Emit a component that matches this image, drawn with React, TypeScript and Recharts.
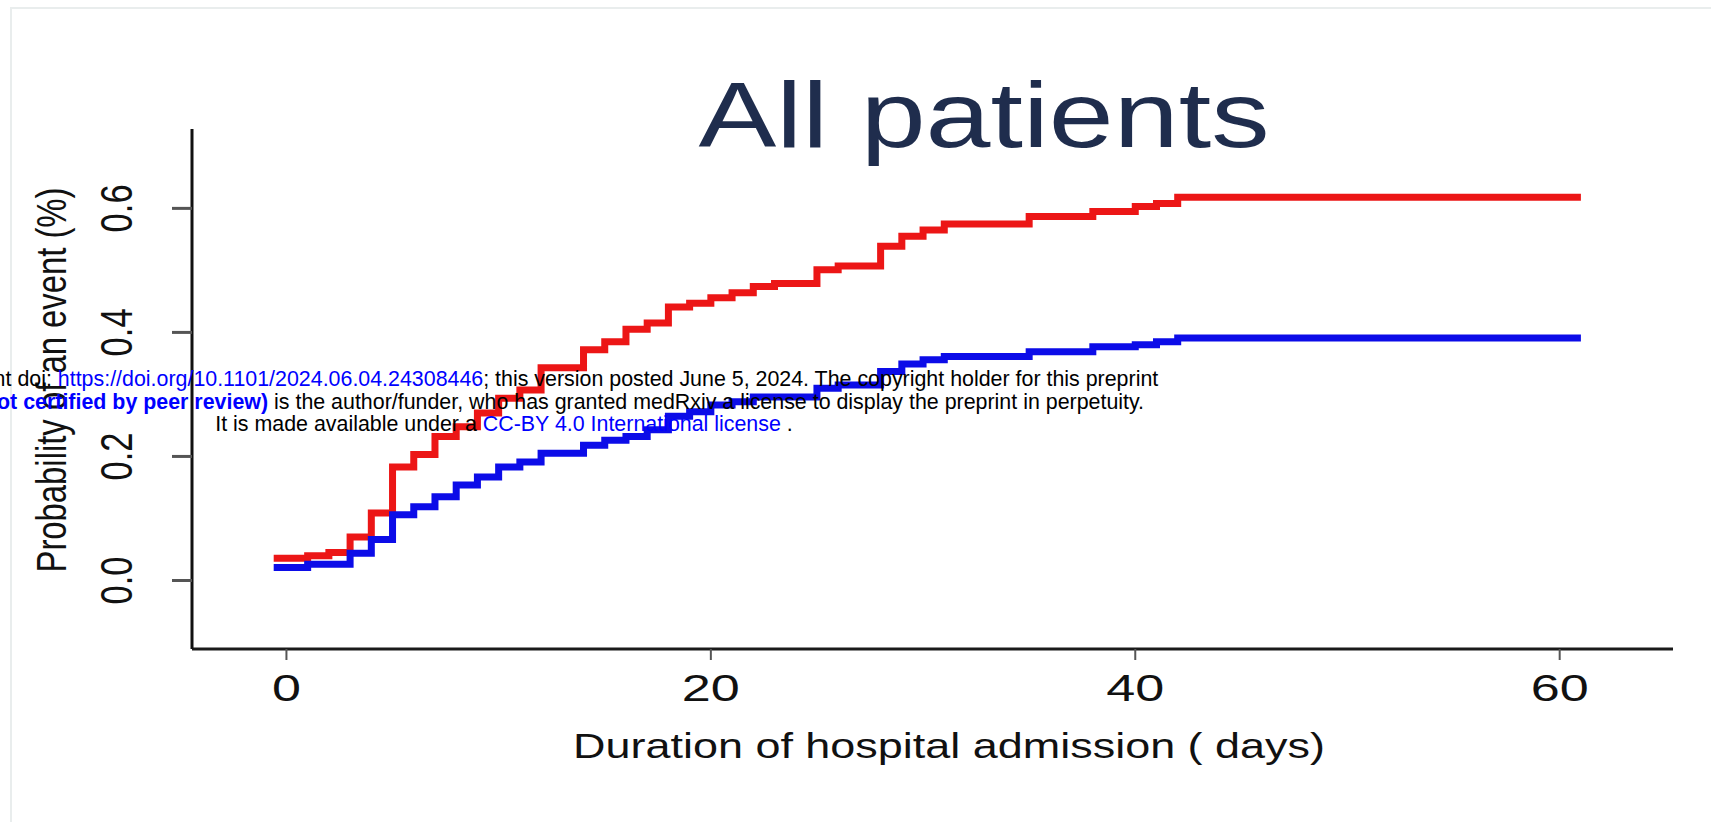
import React from "react";
import { LineChart, Line, XAxis, YAxis } from "recharts";

// days where at least one curve steps (the curves start just before day 0), plus the end of follow-up
const days = [
  -0.6, 1, 2, 3, 4, 5, 6, 7, 8, 9, 10, 11, 12, 13, 14, 15, 16, 17, 18, 19, 20,
  21, 22, 23, 24, 25, 26, 27, 28, 29, 30, 31, 35, 38, 40, 41, 42, 61,
];

const redRisk = [
  0.036, 0.04, 0.045, 0.07, 0.109, 0.183, 0.203, 0.232, 0.248, 0.27, 0.294,
  0.307, 0.343, 0.343, 0.372, 0.385, 0.405, 0.415, 0.441, 0.447, 0.456, 0.464,
  0.474, 0.479, 0.479, 0.501, 0.507, 0.507, 0.539, 0.555, 0.565, 0.575, 0.587,
  0.595, 0.603, 0.608, 0.618, 0.618,
];

const blueRisk = [
  0.021, 0.026, 0.026, 0.044, 0.066, 0.106, 0.119, 0.135, 0.154, 0.167, 0.183,
  0.191, 0.205, 0.205, 0.218, 0.226, 0.232, 0.243, 0.265, 0.272, 0.283, 0.288,
  0.296, 0.296, 0.296, 0.31, 0.315, 0.315, 0.337, 0.349, 0.356, 0.361, 0.369,
  0.377, 0.38, 0.385, 0.391, 0.391,
];

const xTicks = [0, 20, 40, 60];
const yTicks = [0, 0.2, 0.4, 0.6];

const data = days.map((d, i) => ({ day: d, red: redRisk[i], blue: blueRisk[i] }));

const FONT = "'Liberation Sans', Arial, Helvetica, sans-serif";

function XTick(props: any) {
  const { x, y, payload } = props;
  const s = String(payload.value);
  return (
    <text
      x={x}
      y={y + 41}
      textAnchor="middle"
      fontFamily={FONT}
      fontSize={36}
      fill="#111"
      textLength={s.length * 29}
      lengthAdjust="spacingAndGlyphs"
    >
      {s}
    </text>
  );
}

function YTick(props: any) {
  const { x, y, payload } = props;
  const s = Number(payload.value).toFixed(1);
  const bx = x - 40;
  return (
    <text
      x={bx}
      y={y}
      transform={`rotate(-90 ${bx} ${y})`}
      textAnchor="middle"
      fontFamily={FONT}
      fontSize={44}
      fill="#111"
      textLength={48}
      lengthAdjust="spacingAndGlyphs"
    >
      {s}
    </text>
  );
}

function YTitle(props: any) {
  const vb = props.viewBox || { x: 162, y: 129, width: 30, height: 520 };
  const bx = vb.x - 96;
  const cy = vb.y + vb.height / 2 - 9;
  return (
    <text
      x={bx}
      y={cy}
      transform={`rotate(-90 ${bx} ${cy})`}
      textAnchor="middle"
      fontFamily={FONT}
      fontSize={43}
      fill="#111"
      textLength={385}
      lengthAdjust="spacingAndGlyphs"
    >
      Probability of an event (%)
    </text>
  );
}

function XTitle(props: any) {
  const vb = props.viewBox || { x: 192, y: 649, width: 1481, height: 30 };
  return (
    <text
      x={949}
      y={vb.y + 109}
      textAnchor="middle"
      fontFamily={FONT}
      fontSize={35}
      fill="#111"
      textLength={752}
      lengthAdjust="spacingAndGlyphs"
    >
      Duration of hospital admission ( days)
    </text>
  );
}

export default function App() {
  return (
    <div
      style={{
        position: "absolute",
        left: 0,
        top: 0,
        width: 1711,
        height: 822,
        background: "#fff",
        overflow: "hidden",
      }}
    >
      <div
        style={{
          position: "absolute",
          left: 10,
          top: 7,
          width: 1701,
          height: 815,
          borderLeft: "2px solid #e9eded",
          borderTop: "2px solid #e9eded",
        }}
      />
      <svg
        width={1711}
        height={170}
        style={{ position: "absolute", left: 0, top: 0 }}
      >
        <text
          x={984}
          y={147}
          textAnchor="middle"
          fontFamily={FONT}
          fontSize={93}
          fill="#1f2d4d"
          textLength={571}
          lengthAdjust="spacingAndGlyphs"
        >
          All patients
        </text>
      </svg>
      <div style={{ position: "absolute", left: 0, top: 0 }}>
        <LineChart
          width={1711}
          height={822}
          data={data}
          margin={{ top: 129, right: 38, bottom: 143, left: 162 }}
        >
          <XAxis
            type="number"
            dataKey="day"
            domain={[-4.45, 65.34]}
            ticks={xTicks}
            allowDataOverflow
            height={30}
            tickSize={11}
            tickMargin={0}
            axisLine={{ stroke: "#1a1a1a", strokeWidth: 3 }}
            tickLine={{ stroke: "#555", strokeWidth: 2 }}
            tick={<XTick />}
            label={<XTitle />}
          />
          <YAxis
            type="number"
            domain={[-0.1105, 0.728]}
            ticks={yTicks}
            allowDataOverflow
            width={30}
            tickSize={20}
            tickMargin={0}
            axisLine={{ stroke: "#111", strokeWidth: 3 }}
            tickLine={{ stroke: "#555", strokeWidth: 3 }}
            tick={<YTick />}
            label={<YTitle />}
          />
          <Line
            dataKey="red"
            type="stepAfter"
            stroke="#ec1616"
            strokeWidth={7}
            dot={false}
            activeDot={false}
            isAnimationActive={false}
          />
          <Line
            dataKey="blue"
            type="stepAfter"
            stroke="#0c0ce8"
            strokeWidth={7}
            dot={false}
            activeDot={false}
            isAnimationActive={false}
          />
        </LineChart>
      </div>
      <div
        style={{
          position: "absolute",
          left: -496,
          top: 368,
          width: 2000,
          textAlign: "center",
          fontFamily: FONT,
          fontSize: 21.4,
          lineHeight: "22.5px",
          color: "#000",
          whiteSpace: "nowrap",
        }}
      >
        <div>
          medRxiv preprint doi:{" "}
          <span style={{ color: "#0000ff" }}>
            https://doi.org/10.1101/2024.06.04.24308446
          </span>
          ; this version posted June 5, 2024. The copyright holder for this
          preprint
        </div>
        <div>
          <span style={{ color: "#0000ff", fontWeight: "bold" }}>
            (which was not certified by peer review)
          </span>{" "}
          is the author/funder, who has granted medRxiv a license to display the
          preprint in perpetuity.
        </div>
        <div>
          It is made available under a{" "}
          <span style={{ color: "#0000ff" }}>CC-BY 4.0 International license</span>{" "}
          .
        </div>
      </div>
    </div>
  );
}
